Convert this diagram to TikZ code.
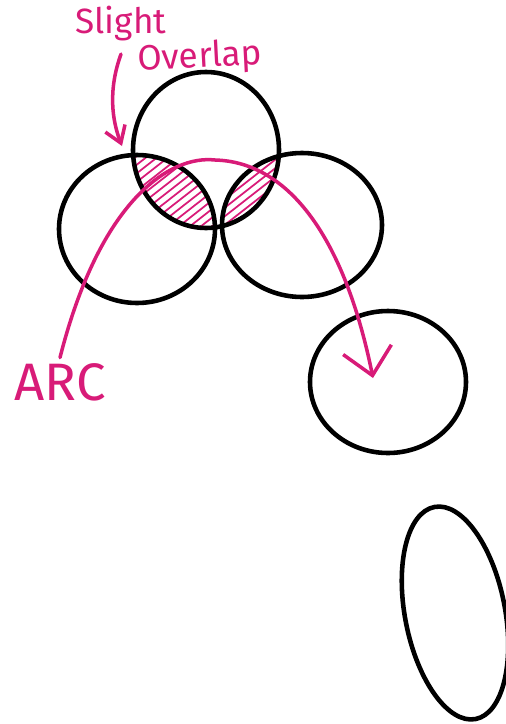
\documentclass[tikz,border=0pt]{standalone}
\usepackage{fontspec}
\setsansfont{Fira Sans}
\usetikzlibrary{arrows.meta}
\definecolor{inkpink}{HTML}{D81B78}

\begin{document}
\begin{tikzpicture}[x=0.02cm, y=-0.02cm, line cap=round, line join=round,
    sketch/.style={line width=2.6pt, black},
    ink/.style={line width=2pt, inkpink},
    hatch/.style={line width=1pt, inkpink},
    scrawl/.style={text=inkpink, font=\sffamily\fontsize{20}{22}\selectfont, inner sep=0pt}]
  % Page frame (pixel units, y downwards)
  \useasboundingbox (0,0) rectangle (506,724);

  % Centres of the sketched circles
  \coordinate (top) at (206,150);
  \coordinate (left) at (137,229);
  \coordinate (right) at (302,225);
  \coordinate (target) at (388,382);
  \coordinate (blob) at (455,613);

  % Hatched overlaps
  \begin{scope}
    \clip (top) ellipse [x radius=73, y radius=78];
    \clip (left) ellipse [x radius=78, y radius=74];
    \foreach \k in {0,...,23} \draw[hatch] (-20+\k*11,270) -- ++(160,-125);
  \end{scope}
  \begin{scope}
    \clip (top) ellipse [x radius=73, y radius=78];
    \clip (right) ellipse [x radius=80, y radius=72];
    \foreach \k in {0,...,23} \draw[hatch] (-20+\k*11,270) -- ++(160,-125);
  \end{scope}

  % Circles
  \draw[sketch] (top) ellipse [x radius=73, y radius=78];
  \draw[sketch] (left) ellipse [x radius=78, y radius=74];
  \draw[sketch] (right) ellipse [x radius=80, y radius=72];
  \draw[sketch] (target) ellipse [x radius=78, y radius=71];
  \draw[sketch, rotate around={11:(blob)}] (blob) ellipse [x radius=50, y radius=108];

  % Labels
  \node[scrawl] (slight) at (121,24) {Slight};
  \node[scrawl, rotate=3] (overlap) at (200,58) {Overlap};
  \node[scrawl, font=\sffamily\fontsize{30}{32}\selectfont, inner sep=3pt] (arclabel) at (60,382) {ARC};

  % Arrows
  \coordinate (pinch) at (122,146);
  \coordinate (arctip) at (373,378);
  \draw[ink, -{Straight Barb[length=9pt, width=12pt]}] ([yshift=-7pt]slight.south)
    .. controls (108,90) and (112,120) .. (pinch);
  \draw[ink, -{Straight Barb[length=15pt, width=28pt]}] (arclabel.north)
    .. controls (100,200) and (170,155) .. (215,160)
    .. controls (290,162) and (345,240) .. (arctip);
\end{tikzpicture}
\end{document}
